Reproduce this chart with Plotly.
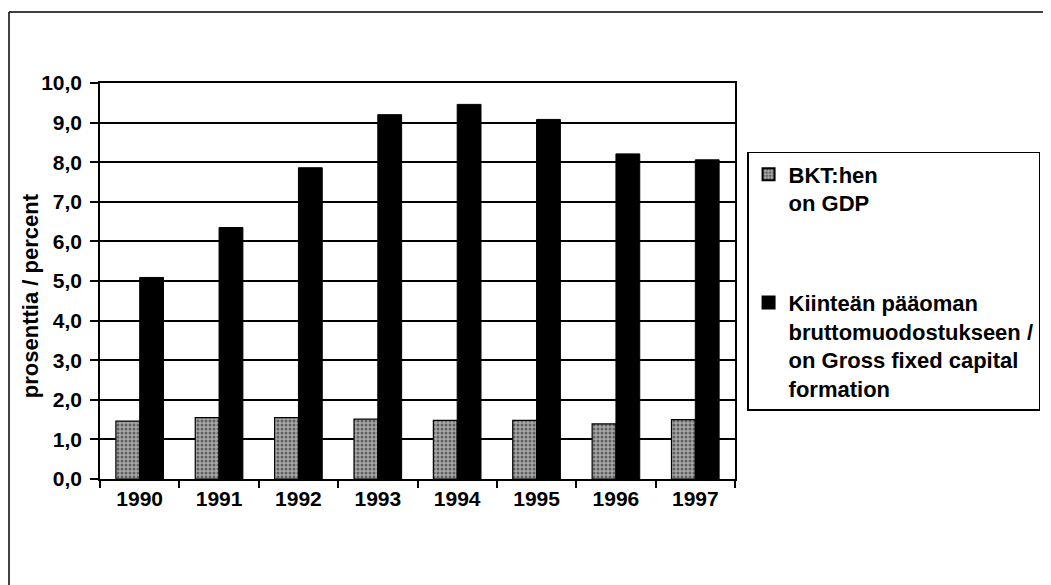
import plotly.graph_objects as go

years = ["1990", "1991", "1992", "1993", "1994", "1995", "1996", "1997"]
gdp = [1.46, 1.55, 1.55, 1.51, 1.48, 1.48, 1.39, 1.50]
gfcf = [5.09, 6.35, 7.86, 9.20, 9.46, 9.08, 8.21, 8.06]
y_ticks = [0, 1, 2, 3, 4, 5, 6, 7, 8, 9, 10]

name_gdp = "BKT:hen<br>on GDP"
name_gfcf = "Kiinteän pääoman<br>bruttomuodostukseen /<br>on Gross fixed capital<br>formation"

FONT = "Liberation Sans, Arial, sans-serif"

def f(size):
    return dict(family=FONT, size=size, color="black", weight="bold")

fig = go.Figure()
fig.add_trace(go.Bar(
    x=years, y=gdp, name=name_gdp, legendgroup="a",
    marker=dict(color="#a8a8a8", line=dict(color="black", width=1.2),
                pattern=dict(shape=".", fgcolor="#1a1a1a", bgcolor="#a8a8a8",
                             size=4, solidity=0.45)),
))
fig.add_trace(go.Bar(
    x=years, y=gfcf, name=name_gfcf, legendgroup="b",
    marker=dict(color="black", line=dict(color="black", width=1)),
))

fig.update_layout(
    width=1051, height=585,
    margin=dict(l=92, r=324, t=75, b=114, autoexpand=False),
    paper_bgcolor="white", plot_bgcolor="white",
    barmode="group", bargap=0.40, bargroupgap=0,
    separators=", ",
    font=f(21),
    showlegend=True,
    legend=dict(
        x=1.019, y=0.826, xanchor="left", yanchor="top",
        bordercolor="black", borderwidth=1.5, bgcolor="white",
        font=f(22),
        traceorder="grouped", tracegroupgap=68,
        itemsizing="constant", valign="top",
    ),
    xaxis=dict(
        type="category", showline=True, linecolor="black", linewidth=1.5,
        mirror=True, ticks="outside", ticklen=7, tickcolor="black",
        tickwidth=1.5, tickson="boundaries", showgrid=False,
        tickfont=f(21),
    ),
    yaxis=dict(
        range=[0, 10], tickvals=y_ticks, tickformat=".1f",
        showline=True, linecolor="black", linewidth=1.5, mirror=True,
        ticks="outside", ticklen=8, tickcolor="black", tickwidth=1.5,
        showgrid=True, gridcolor="black", gridwidth=1.5,
        ticklabelstandoff=4, zeroline=False,
        tickfont=f(21),
    ),
    annotations=[dict(
        text="prosenttia / percent", textangle=-90,
        xref="paper", yref="paper", x=-0.110, y=0.462,
        xanchor="center", yanchor="middle",
        showarrow=False, font=f(22),
    )],
    shapes=[
        dict(type="line", xref="paper", yref="paper", x0=-0.1433, x1=-0.1433,
             y0=1.179, y1=-0.35, line=dict(color="black", width=1.5)),
        dict(type="line", xref="paper", yref="paper", x0=-0.1433, x1=1.70,
             y0=1.179, y1=1.179, line=dict(color="black", width=1.5)),
    ],
)

fig.write_html("out.html")
